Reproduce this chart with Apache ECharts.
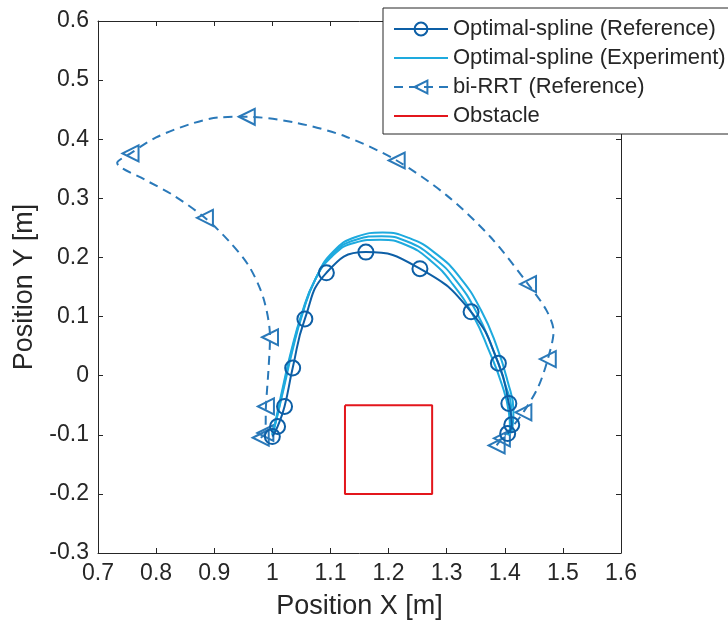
<!DOCTYPE html>
<html>
<head>
<meta charset="utf-8">
<script src="https://cdn.jsdelivr.net/npm/echarts@6/dist/echarts.min.js"></script>
<style>html,body{margin:0;padding:0;background:#fff}#c{width:728px;height:631px}</style>
</head>
<body>
<div id="c"></div>
<script>
// Axis ticks
const xTicks = [0.7, 0.8, 0.9, 1.0, 1.1, 1.2, 1.3, 1.4, 1.5, 1.6];
const yTicks = [-0.3, -0.2, -0.1, 0, 0.1, 0.2, 0.3, 0.4, 0.5, 0.6];

// Optimal-spline (Reference): points with circle markers
const refX = [1.0, 1.009, 1.021, 1.035, 1.056, 1.093, 1.161, 1.254, 1.342, 1.389, 1.407, 1.412, 1.405];
const refY = [-0.103, -0.086, -0.052, 0.013, 0.096, 0.174, 0.209, 0.181, 0.108, 0.021, -0.047, -0.083, -0.098];

// Optimal-spline (Experiment): several runs
const expAX = [1.0, 1.008, 1.02, 1.034, 1.052, 1.075, 1.105, 1.145, 1.19, 1.235, 1.282, 1.323, 1.359, 1.386, 1.405, 1.415, 1.413, 1.405];
const expAY = [-0.1, -0.07, -0.02, 0.04, 0.105, 0.165, 0.21, 0.235, 0.242, 0.233, 0.206, 0.166, 0.111, 0.05, -0.01, -0.06, -0.09, -0.1];
const expBX = [1.0, 1.008, 1.019, 1.033, 1.051, 1.074, 1.104, 1.144, 1.188, 1.232, 1.277, 1.317, 1.352, 1.379, 1.4, 1.411, 1.411, 1.405];
const expBY = [-0.1, -0.07, -0.02, 0.04, 0.104, 0.163, 0.206, 0.23, 0.236, 0.227, 0.2, 0.16, 0.106, 0.046, -0.012, -0.06, -0.09, -0.1];
const expCX = [1.0, 1.007, 1.018, 1.032, 1.05, 1.073, 1.103, 1.142, 1.186, 1.23, 1.273, 1.311, 1.346, 1.373, 1.395, 1.407, 1.409, 1.404];
const expCY = [-0.1, -0.07, -0.02, 0.04, 0.103, 0.161, 0.202, 0.225, 0.23, 0.221, 0.194, 0.154, 0.101, 0.042, -0.015, -0.062, -0.09, -0.1];

// bi-RRT (Reference): path points and which carry a triangle marker (1 = marker)
const rrtX = [0.98, 0.988, 0.989, 0.993, 0.996, 0.985, 0.96, 0.925, 0.884, 0.83, 0.78, 0.733, 0.756, 0.80, 0.86, 0.91, 0.956, 1.04, 1.125, 1.214, 1.30, 1.375, 1.44, 1.472, 1.484, 1.474, 1.458, 1.432, 1.41, 1.395, 1.386];
const rrtY = [-0.105, -0.097, -0.052, 0.005, 0.065, 0.13, 0.185, 0.228, 0.267, 0.305, 0.332, 0.36, 0.376, 0.403, 0.426, 0.437, 0.438, 0.428, 0.405, 0.364, 0.305, 0.235, 0.155, 0.11, 0.075, 0.028, -0.018, -0.062, -0.09, -0.106, -0.118];
const rrtMark = [1, 1, 1, 0, 1, 0, 0, 0, 1, 0, 0, 0, 1, 0, 0, 0, 1, 0, 0, 1, 0, 0, 1, 0, 0, 1, 0, 1, 0, 1, 1];

// Obstacle rectangle corners
const obsX = [1.125, 1.275, 1.275, 1.125, 1.125];
const obsY = [-0.05, -0.05, -0.2, -0.2, -0.05];

const zip = (xs, ys) => xs.map((x, i) => [x, ys[i]]);
const FONT = '"Liberation Sans", Arial, Helvetica, sans-serif';
const C_REF = '#0d5fa6', C_EXP = '#1eaade', C_RRT = '#2a79b9', C_OBS = '#e3161c';
const NOSYM = { color: 'rgba(0,0,0,0)', borderColor: 'rgba(0,0,0,0)', borderWidth: 0, opacity: 0 };

const expSeries = [[expAX, expAY], [expBX, expBY], [expCX, expCY]].map(([xs, ys]) => ({
  name: 'Optimal-spline (Experiment)', type: 'line', smooth: 0.5, symbol: 'none',
  data: zip(xs, ys), lineStyle: { color: C_EXP, width: 2 }, itemStyle: { color: C_EXP }, z: 3
}));

const chart = echarts.init(document.getElementById('c'), null, { renderer: 'canvas' });
const tickAxisCommon = {
  type: 'value', splitLine: { show: false },
  axisLine: { show: true, onZero: false, lineStyle: { color: '#262626', width: 1 } },
  axisTick: { show: true, inside: true, length: 5, lineStyle: { color: '#262626' } }
};
chart.setOption({
  animation: false,
  backgroundColor: '#fff',
  textStyle: { fontFamily: FONT },
  grid: { left: 98, right: 107, top: 21, bottom: 78, containLabel: false },
  xAxis: [
    Object.assign({}, tickAxisCommon, {
      min: xTicks[0], max: xTicks[xTicks.length - 1], interval: 0.1, position: 'bottom',
      name: 'Position X [m]', nameLocation: 'middle', nameGap: 40,
      nameTextStyle: { fontSize: 27, color: '#262626', fontFamily: FONT },
      axisLabel: { fontSize: 23, color: '#262626', margin: 9, fontFamily: FONT }
    }),
    Object.assign({}, tickAxisCommon, {
      min: xTicks[0], max: xTicks[xTicks.length - 1], interval: 0.1, position: 'top',
      axisLabel: { show: false }
    })
  ],
  yAxis: [
    Object.assign({}, tickAxisCommon, {
      min: yTicks[0], max: yTicks[yTicks.length - 1], interval: 0.1, position: 'left',
      name: 'Position Y [m]', nameLocation: 'middle', nameGap: 60,
      nameTextStyle: { fontSize: 27, color: '#262626', fontFamily: FONT },
      axisLabel: { fontSize: 23, color: '#262626', margin: 9, fontFamily: FONT }
    }),
    Object.assign({}, tickAxisCommon, {
      min: yTicks[0], max: yTicks[yTicks.length - 1], interval: 0.1, position: 'right',
      axisLabel: { show: false }
    })
  ],
  legend: {
    orient: 'vertical', left: 383, top: 8,
    backgroundColor: '#fff', borderColor: '#262626', borderWidth: 1,
    padding: [10, 4, 7, 10], itemGap: 7, itemWidth: 54, itemHeight: 16,
    textStyle: { fontSize: 22, lineHeight: 22, color: '#262626', fontFamily: FONT },
    data: [
      'Optimal-spline (Reference)',
      { name: 'Optimal-spline (Experiment)', itemStyle: NOSYM },
      'bi-RRT (Reference)',
      { name: 'Obstacle', itemStyle: NOSYM }
    ]
  },
  series: [
    {
      name: 'Optimal-spline (Reference)', type: 'line', smooth: 0.5,
      data: zip(refX, refY), symbol: 'circle', symbolSize: 15,
      lineStyle: { color: C_REF, width: 2 },
      itemStyle: { color: 'rgba(0,0,0,0)', borderColor: C_REF, borderWidth: 2 }, z: 4
    },
    ...expSeries,
    {
      name: 'bi-RRT (Reference)', type: 'line', smooth: 0.3,
      data: rrtX.map((x, i) => ({ value: [x, rrtY[i]], symbol: rrtMark[i] ? 'triangle' : 'none' })),
      symbol: 'triangle', symbolSize: 16, symbolRotate: 90,
      lineStyle: { color: C_RRT, width: 2, type: [9, 6] },
      itemStyle: { color: 'rgba(0,0,0,0)', borderColor: C_RRT, borderWidth: 2 }, z: 2
    },
    {
      name: 'Obstacle', type: 'line', symbol: 'none', data: zip(obsX, obsY),
      lineStyle: { color: C_OBS, width: 2 }, itemStyle: { color: C_OBS }, z: 2
    }
  ]
});
</script>
</body>
</html>
